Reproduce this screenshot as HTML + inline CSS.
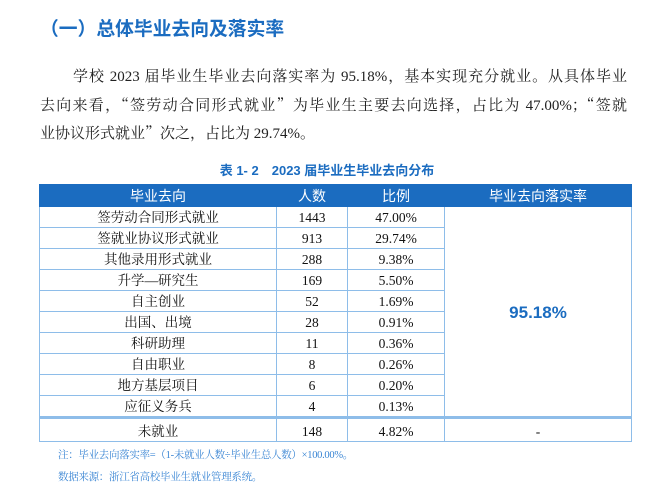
<!DOCTYPE html>
<html><head><meta charset="utf-8"><style>
body{margin:0;width:654px;height:499px;background:#fff;position:relative;overflow:hidden;font-family:"Liberation Serif","Noto Serif CJK SC",serif;}
h1{position:absolute;left:40px;top:14px;margin:0;font:bold 18.8px "Liberation Sans","Noto Sans CJK SC",sans-serif;color:#1b6cc0;}
.l{position:absolute;font-size:15px;line-height:28px;color:#222;white-space:nowrap;text-align:justify;text-align-last:justify}
.q{font-family:"Noto Serif CJK SC",serif}
.cap{position:absolute;left:0;width:654px;top:160px;text-align:center;font:bold 13px "Liberation Sans","Noto Sans CJK SC",sans-serif;color:#1b6cc0}
table{position:absolute;left:39px;top:184px;border-collapse:collapse;font-size:13.5px;color:#111}
td,th{border:1.5px solid #8ebde9;text-align:center;padding:0;height:20px;line-height:16px}
td{padding-top:2px;height:18px}
th{background:#1b6cc0;color:#fff;font-weight:normal;font-size:14px;font-family:"Liberation Sans","Noto Sans CJK SC",sans-serif;height:21px;border-color:#1b6cc0}
.big{color:#1b6cc0;font:bold 17px "Liberation Sans",sans-serif}
.last td{border-top:3px solid #8ebde9;height:19px;padding-top:3px}
.n{position:absolute;left:58px;font-size:10.5px;color:#3b86d4;letter-spacing:-0.3px}
</style></head><body>
<h1>（一）总体毕业去向及落实率</h1>
<div class="l" style="left:73px;top:63px;width:554px">学校 2023 届毕业生毕业去向落实率为 95.18%，基本实现充分就业。从具体毕业</div>
<div class="l" style="left:40px;top:91px;width:587px">去向来看，<span class="q">“</span>签劳动合同形式就业<span class="q">”</span>为毕业生主要去向选择，占比为 47.00%；<span class="q">“</span>签就</div>
<div class="l" style="left:40px;top:119px;text-align-last:left">业协议形式就业<span class="q">”</span>次之，占比为 29.74%。</div>
<div class="cap">表 1- 2　2023 届毕业生毕业去向分布</div>
<table>
<tr><th style="width:236px">毕业去向</th><th style="width:70px">人数</th><th style="width:96px">比例</th><th style="width:186px">毕业去向落实率</th></tr>
<tr><td>签劳动合同形式就业</td><td>1443</td><td>47.00%</td><td rowspan="10" class="big">95.18%</td></tr>
<tr><td>签就业协议形式就业</td><td>913</td><td>29.74%</td></tr>
<tr><td>其他录用形式就业</td><td>288</td><td>9.38%</td></tr>
<tr><td>升学—研究生</td><td>169</td><td>5.50%</td></tr>
<tr><td>自主创业</td><td>52</td><td>1.69%</td></tr>
<tr><td>出国、出境</td><td>28</td><td>0.91%</td></tr>
<tr><td>科研助理</td><td>11</td><td>0.36%</td></tr>
<tr><td>自由职业</td><td>8</td><td>0.26%</td></tr>
<tr><td>地方基层项目</td><td>6</td><td>0.20%</td></tr>
<tr><td>应征义务兵</td><td>4</td><td>0.13%</td></tr>
<tr class="last"><td>未就业</td><td>148</td><td>4.82%</td><td>-</td></tr>
</table>
<div class="n" style="top:447px">注：毕业去向落实率=（1-未就业人数÷毕业生总人数）×100.00%。</div>
<div class="n" style="top:469px">数据来源：浙江省高校毕业生就业管理系统。</div>
</body></html>
